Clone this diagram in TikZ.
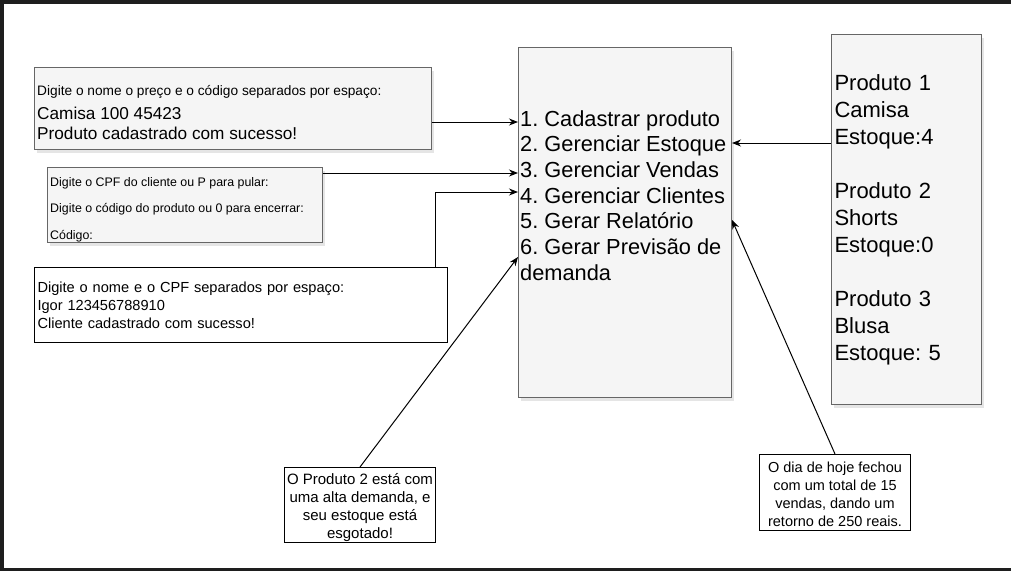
\documentclass[tikz,border=0pt]{standalone}
\usepackage{fontspec}
\setmainfont{Liberation Sans}
\usetikzlibrary{arrows.meta,shadows,positioning}
\definecolor{framedark}{HTML}{1E1E1E}
\definecolor{boxfill}{HTML}{F5F5F5}
\definecolor{boxline}{HTML}{666666}
\newcommand{\setfs}[2]{\fontsize{#1}{#2}\selectfont}
\frenchspacing
\begin{document}
\begin{tikzpicture}[x=1pt,y=-1pt,
  shbox/.style={draw=boxline,fill=boxfill,line width=1pt,anchor=north west,
    inner xsep=3pt,inner ysep=0pt,align=left,
    drop shadow={shadow xshift=2pt,shadow yshift=-3pt,opacity=0.2}},
  notebox/.style={draw=black,fill=white,line width=1pt,anchor=north west,
    inner sep=0pt,align=center},
  txt/.style={inner sep=0pt,anchor=north west,align=left},
  arr/.style={line width=1pt,-{Stealth[length=9pt,width=7pt]}}]
\useasboundingbox (0,0) rectangle (1011,571);
\fill[white] (0,0) rectangle (1011,571);
\fill[framedark] (0,0) rectangle (1011,4);
\fill[framedark] (0,0) rectangle (4,571);
\fill[framedark] (0,568) rectangle (1011,571);

% entradas do terminal
\node[shbox,minimum width=397pt,minimum height=82pt] (cad) at (34,67) {};
\node[txt,font=\setfs{13.7}{15}] (cadtxt) at (37,85)
  {Digite o nome o preço e o código separados por espaço:};
\node[txt,font=\setfs{17.2}{19.5}] (cadtxt2) at (37,107)
  {Camisa 100 45423\\Produto cadastrado com sucesso!};
\node[shbox,minimum width=275pt,minimum height=75pt] (vend) at (47,167) {};
\node[txt,font=\setfs{12.4}{26.5}] (vendtxt) at (50,177)
  {Digite o CPF do cliente ou P para pular:\\Digite o código do produto ou 0 para encerrar:\\Código:};
\node[notebox,align=left,inner xsep=3pt,text width=407pt,minimum height=75pt,font=\setfs{14.6}{18}] (cli) at (34,267)
  {Digite o nome e o CPF separados por espaço:\\Igor 123456788910\\Cliente cadastrado com sucesso!};

% menu
\node[shbox,minimum width=213pt,minimum height=350pt] (menu) at (518,47) {};
\node[txt,font=\setfs{21.8}{25.7}] (menutxt) at (520,110)
  {1. Cadastrar produto\\2. Gerenciar Estoque\\3. Gerenciar Vendas\\4. Gerenciar Clientes\\
   5. Gerar Relatório\\6. Gerar Previsão de\\demanda};

% produtos
\node[shbox,text width=144pt,minimum height=370pt,font=\setfs{22}{27}] (prod) at (831,34)
  {Produto 1\\Camisa\\Estoque:4\\[27pt]Produto 2\\Shorts\\Estoque:0\\[27pt]Produto 3\\Blusa\\Estoque: 5};

% notas
\node[notebox,minimum width=151pt,minimum height=75pt,font=\setfs{15}{18}] (nota1) at (284,467)
  {\rule{0pt}{16pt}O Produto 2 está com\\uma alta demanda, e\\seu estoque está\\esgotado!};
\node[notebox,minimum width=151pt,minimum height=76pt,font=\setfs{14.5}{18}] (nota2) at (759,454)
  {\rule{0pt}{14pt}O dia de hoje fechou\\com um total de 15\\vendas, dando um\\retorno de 250 reais.};

\draw[arr] (cad.east |- 0,122) -- (menu.west |- 0,122);
\draw[arr] (prod.west |- 0,143) -- (menu.east |- 0,143);
\draw[arr] (vend.east |- 0,173) -- (menu.west |- 0,173);
\draw[arr] ([xshift=-13pt]cli.north east) |- (menu.west |- 0,192);
\draw[arr] (nota1.north) -- (menu.west |- 0,257);
\draw[arr] (nota2.north) -- (menu.east |- 0,220);
\end{tikzpicture}
\end{document}
